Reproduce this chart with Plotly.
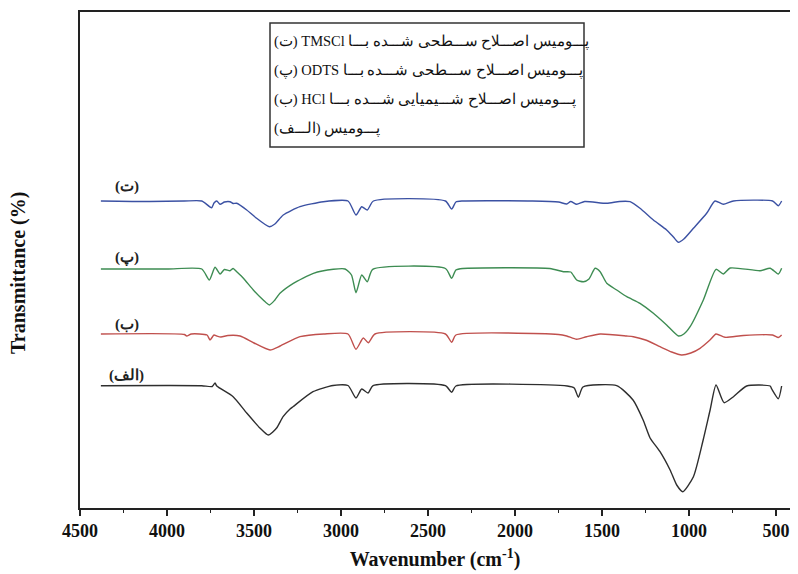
import plotly.graph_objects as go

# Wavenumber (cm-1) and offset transmittance values
wn_t = [4380, 4100, 3900, 3800, 3744, 3730, 3714, 3695, 3670, 3638, 3620, 3600, 3542, 3485, 3440, 3412, 3380, 3332, 3236, 3102, 2960, 2914, 2881, 2849, 2814, 2400, 2364, 2340, 2300, 1900, 1750, 1703, 1680, 1646, 1600, 1473, 1400, 1339, 1282, 1205, 1129, 1090, 1061, 1030, 975, 899, 851, 803, 745, 520, 487, 468]
tr_t = [61.4, 61.3, 61.4, 61.4, 60.06, 61.0, 61.4, 60.74, 61.2, 61.26, 60.9, 60.94, 59.6, 57.94, 56.8, 56.26, 56.8, 58.6, 60.26, 61.26, 61.4, 58.6, 60.26, 59.6, 61.4, 61.4, 59.8, 61.2, 61.4, 61.4, 61.2, 60.8, 61.3, 60.74, 61.3, 60.94, 61.3, 61.26, 59.94, 57.6, 55.6, 54.2, 53.14, 53.8, 55.94, 58.94, 61.4, 60.74, 61.4, 61.4, 60.46, 61.4]

wn_p = [4380, 4000, 3800, 3757, 3724, 3695, 3670, 3638, 3620, 3600, 3561, 3504, 3447, 3412, 3380, 3351, 3274, 3159, 3044, 2977, 2940, 2914, 2881, 2849, 2818, 2400, 2364, 2340, 2300, 1800, 1722, 1680, 1646, 1607, 1575, 1540, 1511, 1473, 1416, 1358, 1282, 1205, 1129, 1061, 1030, 994, 918, 845, 803, 764, 592, 534, 487, 468]
tr_p = [47.8, 47.8, 47.8, 45.6, 48.14, 46.8, 47.7, 47.46, 47.9, 47.26, 45.94, 43.6, 41.6, 40.6, 41.6, 42.94, 44.94, 46.94, 47.74, 47.8, 46.6, 43.06, 46.6, 45.26, 47.74, 47.9, 45.94, 47.6, 47.9, 47.9, 47.26, 47.2, 45.6, 45.26, 45.8, 47.94, 47.26, 44.94, 43.6, 42.26, 40.94, 38.94, 36.6, 34.4, 34.8, 36.26, 41.6, 47.74, 46.8, 48.0, 47.46, 47.94, 46.8, 47.94]

wn_b = [4380, 3900, 3887, 3860, 3770, 3753, 3730, 3714, 3690, 3650, 3580, 3500, 3408, 3350, 3236, 3100, 2960, 2914, 2872, 2843, 2805, 2400, 2364, 2340, 1750, 1703, 1646, 1589, 1511, 1358, 1320, 1250, 1167, 1100, 1043, 990, 937, 880, 845, 793, 688, 520, 487, 468]
tr_b = [34.8, 34.7, 34.4, 34.8, 34.6, 33.6, 34.6, 34.4, 34.2, 34.5, 34.4, 33.0, 31.6, 32.4, 34.26, 34.8, 34.8, 31.74, 34.0, 33.06, 34.8, 34.8, 33.14, 34.6, 34.7, 34.4, 33.74, 34.26, 34.8, 34.4, 34.26, 33.6, 32.26, 31.2, 30.6, 31.0, 31.94, 33.6, 34.8, 34.14, 34.5, 34.6, 34.1, 34.6]

wn_a = [4380, 4000, 3800, 3740, 3724, 3714, 3620, 3542, 3466, 3418, 3370, 3333, 3293, 3276, 3161, 3046, 2960, 2914, 2881, 2845, 2816, 2400, 2364, 2340, 1700, 1660, 1636, 1610, 1416, 1322, 1264, 1224, 1167, 1109, 1071, 1036, 975, 919, 879, 845, 799, 745, 669, 534, 525, 487, 468]
tr_a = [24.46, 24.5, 24.46, 24.3, 25.0, 24.4, 22.26, 19.0, 16.0, 14.6, 16.0, 18.26, 19.8, 20.26, 23.26, 24.5, 24.5, 22.0, 23.8, 23.0, 24.46, 24.46, 23.14, 24.4, 24.4, 24.0, 22.14, 24.2, 24.46, 21.6, 17.6, 14.0, 11.26, 7.6, 4.6, 3.26, 6.26, 13.6, 19.6, 24.6, 21.06, 22.26, 24.4, 24.4, 23.8, 21.86, 24.4]

series_labels = ["(ت)", "(پ)", "(ب)", "(الف)"]
label_y = [64.4, 50.0, 36.8, 26.6]
legend_texts = [
    "پـــومیس اصـــلاح ســـطحی شـــده بـــا TMSCl (ت)",
    "پـــومیس اصـــلاح ســـطحی شـــده بـــا ODTS (پ)",
    "پـــومیس اصـــلاح شـــیمیایی شـــده بـــا HCl (ب)",
    "پـــومیس (الـــف)",
]
x_ticks = [4500, 4000, 3500, 3000, 2500, 2000, 1500, 1000, 500]

colors = ["#3b51a3", "#3d8c52", "#c0504d", "#2e2e2e"]
series = [(wn_t, tr_t), (wn_p, tr_p), (wn_b, tr_b), (wn_a, tr_a)]

fig = go.Figure()
for (wx, ty), c in zip(series, colors):
    fig.add_trace(go.Scatter(x=wx, y=ty, mode="lines",
                             line=dict(color=c, width=1.4, shape="spline", smoothing=0.6),
                             showlegend=False, hoverinfo="skip"))

serif = "Liberation Serif, Times New Roman, DejaVu Serif, serif"

for lab, yy in zip(series_labels, label_y):
    fig.add_annotation(x=4230, y=yy, text="<b>" + lab + "</b>", showarrow=False,
                       xref="x", yref="y", xanchor="center", yanchor="middle",
                       font=dict(family=serif, size=15, color="#222"))

# legend box (positions relative to plot area: left 80px, bottom 508px, 710x496 px)
fig.add_shape(type="rect", xref="paper", yref="paper",
              x0=(270 - 80) / 710, x1=(584 - 80) / 710,
              y0=(508 - 147) / 496, y1=(508 - 23) / 496,
              line=dict(color="#333", width=1.5), fillcolor="white")
for i, t in enumerate(legend_texts):
    ypx = 41 + i * 29
    fig.add_annotation(x=(272 - 80) / 710, y=(508 - ypx) / 496, xref="paper", yref="paper",
                       text="\u202B" + t + "\u202C", showarrow=False,
                       xanchor="left", yanchor="middle",
                       font=dict(family=serif, size=14.5, color="#111"))

fig.add_annotation(x=-61 / 710, y=(508 - 273) / 496, xref="paper", yref="paper",
                   text="<b>Transmittance (%)</b>", textangle=-90, showarrow=False,
                   xanchor="center", yanchor="middle",
                   font=dict(family=serif, size=20, color="#111"))

fig.update_layout(
    width=790, height=566,
    margin=dict(l=72, r=8, t=4, b=66),
    plot_bgcolor="white", paper_bgcolor="white",
    xaxis=dict(range=[4500, 420], tickvals=x_ticks,
               ticktext=["<b>%d</b>" % v for v in x_ticks],
               ticks="outside", ticklen=6, tickwidth=1.5, tickcolor="#222",
               minor=dict(ticks="outside", ticklen=3, tickwidth=1.2, dtick=250, tick0=4500, tickcolor="#222"),
               showline=True, linecolor="#222", linewidth=1.5, mirror=True,
               showgrid=False, zeroline=False, automargin=False,
               tickfont=dict(family=serif, size=18, color="#111"),
               title=dict(text="<b>Wavenumber (cm<sup>-1</sup>)</b>", standoff=12,
                          font=dict(family=serif, size=20, color="#111"))),
    yaxis=dict(range=[0, 99.2], showticklabels=False, ticks="",
               showline=True, linecolor="#222", linewidth=1.5, mirror=True,
               showgrid=False, zeroline=False, automargin=False),
)

fig.write_html("out.html")
